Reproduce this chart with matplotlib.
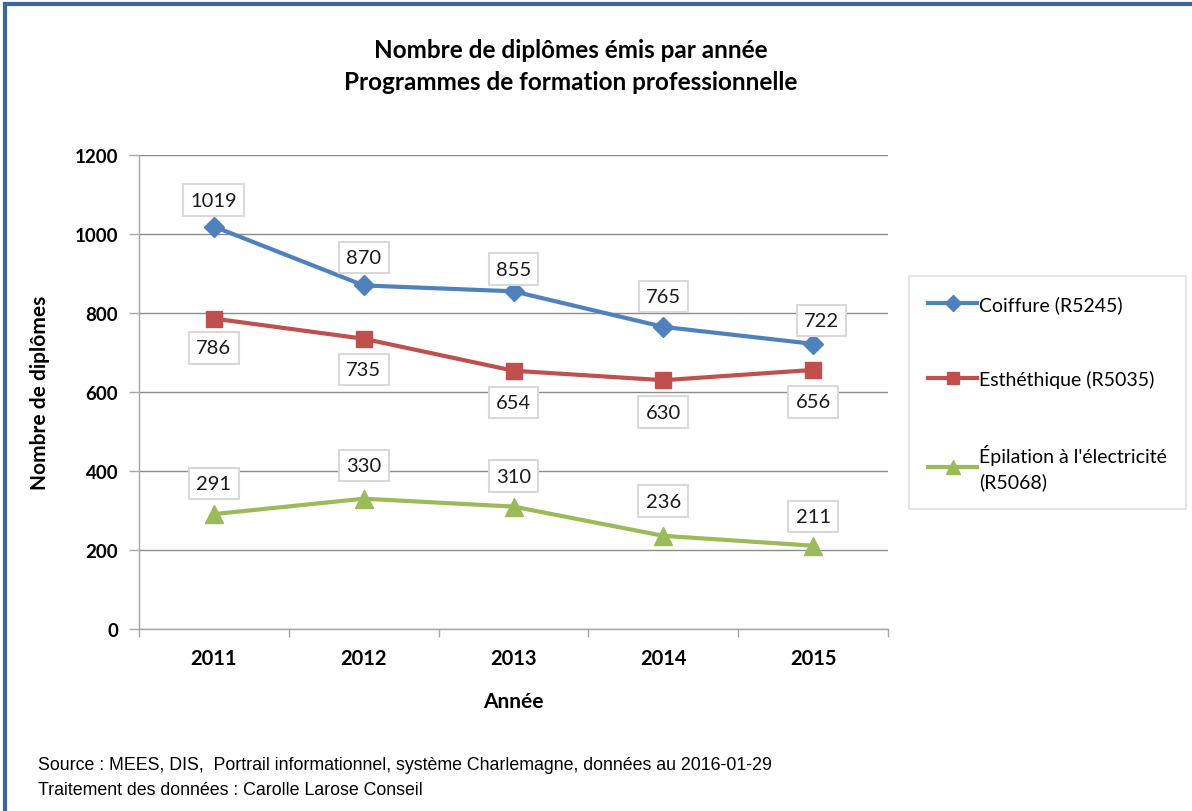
import numpy as np
import matplotlib.pyplot as plt
from matplotlib.lines import Line2D

# data
years = ["2011", "2012", "2013", "2014", "2015"]
coiffure = [1019, 870, 855, 765, 722]
esthetique = [786, 735, 654, 630, 656]
epilation = [291, 330, 310, 236, 211]
series_names = ["Coiffure (R5245)", "Esthéthique (R5035)",
                "Épilation à l'électricité\n(R5068)"]

# styles
colors = ["#4F81BD", "#C0504D", "#9BBB59"]
markers = ["D", "s", "^"]
msizes = [10, 11, 13]
# label offsets in points (dx, dy) for each point
offsets = [
    [(0, 19), (0, 20), (0, 16), (0, 22), (6, 17)],
    [(0, -21), (0, -22), (0, -23), (0, -23), (0, -23)],
    [(0, 22), (0, 24), (0, 22), (0, 25), (0, 21)],
]

plt.rcParams['font.family'] = ['Lato', 'DejaVu Sans']

fig = plt.figure(figsize=(11.92, 8.12), dpi=100)
ax = fig.add_axes([0.1166, 0.2241, 0.6284, 0.5837])

x = np.arange(len(years))
handles = []
for vals, col, mk, ms, offs in zip([coiffure, esthetique, epilation], colors, markers, msizes, offsets):
    h, = ax.plot(x, vals, color=col, lw=3, marker=mk, markersize=ms, zorder=3)
    handles.append(h)
    for xi, v, (dx, dy) in zip(x, vals, offs):
        ax.annotate(str(v), (xi, v), xytext=(dx, dy), textcoords="offset points",
                    ha="center", va="center", fontsize=14.5, color="#1a1a1a", zorder=4,
                    bbox=dict(boxstyle="square,pad=0.36", fc="white", ec="#d9d9d9", lw=1.5))

ax.set_ylim(0, 1200)
ax.set_xlim(-0.5, len(years) - 0.5)
ax.set_yticks(np.arange(0, 1201, 200))
ax.set_xticks(x)
ax.set_xticklabels(years)
ax.set_xticks(np.arange(-0.5, len(years)), minor=True)
ax.tick_params(axis="x", which="major", length=0, pad=14, labelsize=14.5)
ax.tick_params(axis="x", which="minor", length=6, color="#a6a6a6", width=1)
ax.tick_params(axis="y", length=7, color="#a6a6a6", width=1, pad=8, labelsize=13.5)
for lab in ax.get_xticklabels() + ax.get_yticklabels():
    lab.set_fontweight("bold")

ax.grid(axis="y", color="#8c8c8c", lw=1)
ax.set_axisbelow(True)
for s in ["top", "right"]:
    ax.spines[s].set_visible(False)
for s in ["left", "bottom"]:
    ax.spines[s].set_color("#a6a6a6")
    ax.spines[s].set_linewidth(1)

ax.set_xlabel("Année", fontsize=15, fontweight="bold", labelpad=16)
ax.set_ylabel("Nombre de diplômes", fontsize=15, fontweight="bold", labelpad=18)

fig.text(0.479, 0.938, "Nombre de diplômes émis par année", ha="center", va="center",
         fontsize=17.5, fontweight="bold")
fig.text(0.479, 0.899, "Programmes de formation professionnelle", ha="center", va="center",
         fontsize=17.5, fontweight="bold")

leg = fig.legend(handles, series_names, loc="upper left", bbox_to_anchor=(0.7626, 0.659),
                 fontsize=14, frameon=True, fancybox=False, edgecolor="#d9d9d9",
                 handlelength=2.5, handletextpad=0.1, labelspacing=2.9, borderpad=1.0,
                 borderaxespad=0, markerscale=0.8)
leg.get_frame().set_linewidth(1.2)
for t in leg.get_texts():
    t.set_linespacing(1.45)

foot = ["Liberation Sans Narrow", "Liberation Sans", "DejaVu Sans"]
fig.text(0.032, 0.057, "Source : MEES, DIS,  Portrail informationnel, système Charlemagne, données au 2016-01-29",
         ha="left", va="center", fontsize=12.8, family=foot)
fig.text(0.032, 0.026, "Traitement des données : Carolle Larose Conseil",
         ha="left", va="center", fontsize=12.8, family=foot)

# blue frame on top and left
fig.add_artist(Line2D([0.0045, 1.0], [0.9935, 0.9935], transform=fig.transFigure, color="#3b679e", lw=3))
fig.add_artist(Line2D([0.0045, 0.0045], [0.0, 0.9935], transform=fig.transFigure, color="#3b679e", lw=3))

fig.savefig("out.png", dpi=100)
